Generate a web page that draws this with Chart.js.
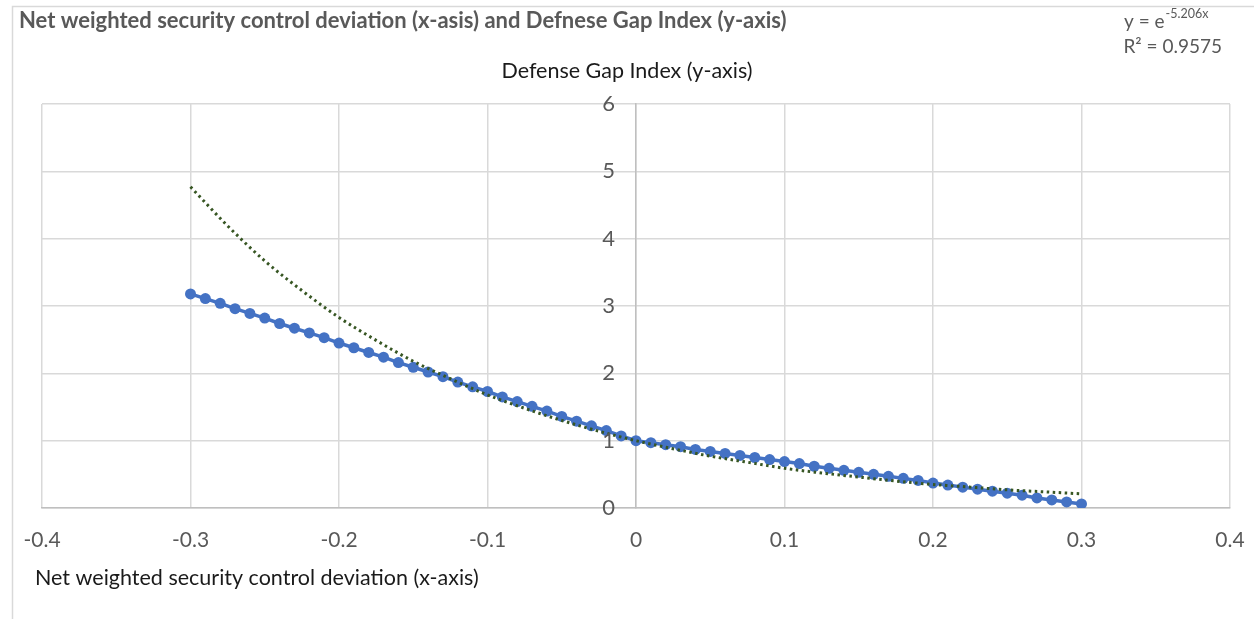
<!DOCTYPE html>
<html>
<head>
<meta charset="utf-8">
<script src="https://cdn.jsdelivr.net/npm/chart.js@4/dist/chart.umd.min.js"></script>
<style>
  html, body { margin: 0; background: #fff; overflow: hidden; }
  #wrap { width: 1254px; height: 619px; position: relative; }
  canvas { display: block; }
</style>
</head>
<body>
<div id="wrap"><canvas id="myChart"></canvas></div>
<script>
// Net weighted security control deviation (x) vs Defense Gap Index (y)
var xValues = [-0.30, -0.29, -0.28, -0.27, -0.26, -0.25, -0.24, -0.23, -0.22, -0.21,
               -0.20, -0.19, -0.18, -0.17, -0.16, -0.15, -0.14, -0.13, -0.12, -0.11,
               -0.10, -0.09, -0.08, -0.07, -0.06, -0.05, -0.04, -0.03, -0.02, -0.01,
               0.00, 0.01, 0.02, 0.03, 0.04, 0.05, 0.06, 0.07, 0.08, 0.09,
               0.10, 0.11, 0.12, 0.13, 0.14, 0.15, 0.16, 0.17, 0.18, 0.19,
               0.20, 0.21, 0.22, 0.23, 0.24, 0.25, 0.26, 0.27, 0.28, 0.29, 0.30];
var gapIndex = [3.18, 3.11, 3.04, 2.96, 2.89, 2.82, 2.74, 2.67, 2.60, 2.53,
                2.45, 2.38, 2.31, 2.24, 2.16, 2.09, 2.02, 1.95, 1.87, 1.80,
                1.73, 1.65, 1.58, 1.51, 1.44, 1.36, 1.29, 1.22, 1.15, 1.07,
                1.00, 0.97, 0.94, 0.91, 0.87, 0.84, 0.81, 0.78, 0.75, 0.72,
                0.69, 0.66, 0.62, 0.59, 0.56, 0.53, 0.50, 0.47, 0.44, 0.41,
                0.37, 0.34, 0.31, 0.28, 0.25, 0.22, 0.19, 0.15, 0.12, 0.09, 0.06];

// exponential trendline (y = e^-5.206x)
var trendX = [-0.300, -0.275, -0.250, -0.225, -0.200, -0.175, -0.150, -0.125, -0.100, -0.075, -0.050, -0.025,
              0.000, 0.025, 0.050, 0.075, 0.100, 0.125, 0.150, 0.175, 0.200, 0.225, 0.250, 0.275, 0.300];
var trendY = [4.77, 4.19, 3.67, 3.23, 2.83, 2.49, 2.18, 1.92, 1.68, 1.48, 1.30, 1.14,
              1.00, 0.88, 0.77, 0.68, 0.59, 0.52, 0.46, 0.40, 0.35, 0.31, 0.27, 0.24, 0.21];

var xTicks = [-0.4, -0.3, -0.2, -0.1, 0, 0.1, 0.2, 0.3, 0.4];
var yTicks = [0, 1, 2, 3, 4, 5, 6];

var chartTitle = "Net weighted security control deviation (x-asis) and Defnese Gap Index (y-axis)";
var xTitle = "Net weighted security control deviation (x-axis)";
var yTitle = "Defense Gap Index (y-axis)";

var FONT = "Lato, 'Open Sans', sans-serif";

var points = [];
xValues.forEach(function (x, i) {
    points.push({ x: x, y: gapIndex[i] });
});
var trend = [];
trendX.forEach(function (x, i) {
    trend.push({ x: x, y: trendY[i] });
});

// frame, titles, y tick labels and the trendline equation
var extras = {
    id: "extras",
    beforeDraw: function (chart) {
        var ctx = chart.ctx;
        ctx.save();
        ctx.fillStyle = "#fff";
        ctx.fillRect(0, 0, chart.width, chart.height);
        ctx.strokeStyle = "#d9d9d9";
        ctx.lineWidth = 1.5;
        ctx.strokeRect(12.5, 6.5, chart.width + 20, chart.height + 20);
        ctx.restore();
    },
    afterDraw: function (chart) {
        var ctx = chart.ctx;
        var xs = chart.scales.x;
        var ys = chart.scales.y;
        ctx.save();
        ctx.textBaseline = "middle";

        // y tick labels sit left of the axis crossing at x = 0
        ctx.fillStyle = "#595959";
        ctx.font = "22px " + FONT;
        ctx.textAlign = "right";
        var x0 = xs.getPixelForValue(0);
        yTicks.forEach(function (v) {
            ctx.fillText(String(v), x0 - 21, ys.getPixelForValue(v));
        });

        ctx.font = "bold 22px " + FONT;
        ctx.textAlign = "left";
        ctx.fillText(chartTitle, 19, 21);

        ctx.fillStyle = "#1a1a1a";
        ctx.font = "21.5px " + FONT;
        ctx.textAlign = "center";
        ctx.fillText(yTitle, 627, 71);
        ctx.textAlign = "left";
        ctx.fillText(xTitle, 35, 578);

        // equation: y = e^-5.206x
        ctx.fillStyle = "#595959";
        ctx.font = "19px " + FONT;
        ctx.textAlign = "left";
        var base = "y = e";
        ctx.fillText(base, 1124, 22);
        var w = ctx.measureText(base).width;
        ctx.font = "12.5px " + FONT;
        ctx.fillText("-5.206x", 1124 + w + 1, 14);
        ctx.font = "19px " + FONT;
        ctx.textAlign = "right";
        ctx.fillText("R\u00b2 = 0.9575", 1222, 47);
        ctx.restore();
    }
};

var myChart = document.getElementById("myChart").getContext("2d");
var chart = new Chart(myChart, {
    type: "scatter",
    data: {
        datasets: [
            {
                label: "Trend",
                data: trend,
                showLine: true,
                order: 0,
                borderColor: "#375623",
                borderWidth: 3,
                borderDash: [2.5, 3.5],
                pointRadius: 0,
                cubicInterpolationMode: "monotone",
                fill: false
            },
            {
                label: "Defense Gap Index",
                data: points,
                showLine: true,
                order: 1,
                borderColor: "#4472C4",
                backgroundColor: "#4472C4",
                borderWidth: 3.5,
                pointRadius: 5.5,
                pointBorderWidth: 0,
                fill: false
            }
        ]
    },
    options: {
        responsive: true,
        maintainAspectRatio: false,
        animation: false,
        layout: { padding: { left: 42, right: 24, top: 104, bottom: 0 } },
        plugins: {
            legend: { display: false },
            tooltip: { enabled: false }
        },
        scales: {
            x: {
                type: "linear",
                position: "bottom",
                min: -0.4,
                max: 0.4,
                afterFit: function (s) {
                    s.height = 111;
                    s.paddingLeft = 0;
                    s.paddingRight = 0;
                },
                afterBuildTicks: function (s) {
                    s.ticks = xTicks.map(function (v) { return { value: v }; });
                },
                ticks: {
                    color: "#595959",
                    font: { family: FONT, size: 21 },
                    padding: 20,
                    maxRotation: 0,
                    callback: function (v) { return String(Math.round(v * 10) / 10); }
                },
                grid: { color: "#d9d9d9", lineWidth: 1.5, drawTicks: false },
                border: { color: "#bfbfbf", width: 1.5 }
            },
            y: {
                type: "linear",
                position: { x: 0 },
                min: 0,
                max: 6,
                afterBuildTicks: function (s) {
                    s.ticks = yTicks.map(function (v) { return { value: v }; });
                },
                ticks: { display: false },
                grid: { color: "#d9d9d9", lineWidth: 1.5, drawTicks: false },
                border: { color: "#bfbfbf", width: 1.5 }
            }
        }
    },
    plugins: [extras]
});
</script>
</body>
</html>
